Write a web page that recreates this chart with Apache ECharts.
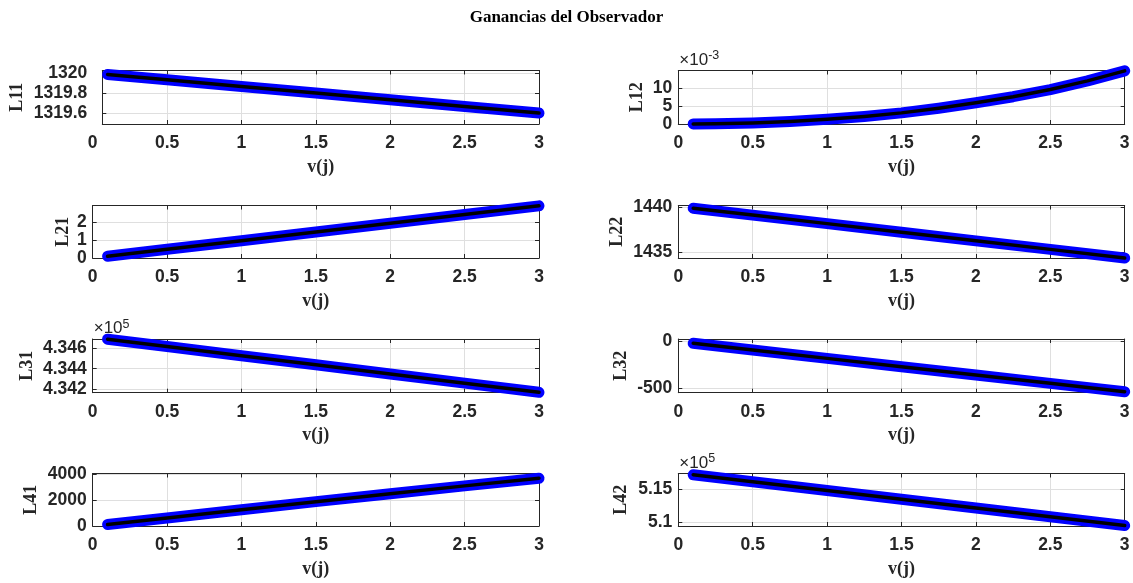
<!DOCTYPE html>
<html>
<head>
<meta charset="utf-8">
<script src="https://cdn.jsdelivr.net/npm/echarts@6/dist/echarts.min.js"></script>
<style>
  html, body { margin: 0; padding: 0; background: #ffffff; }
  #chart { width: 1133px; height: 583px; }
</style>
</head>
<body>
<div id="chart"></div>
<script>
// Observer gains against v(j)
const vj = [0.1, 0.5, 1, 1.5, 2, 2.5, 3];
const vjFine = [0.1, 0.25, 0.5, 0.75, 1, 1.25, 1.5, 1.75, 2, 2.25, 2.5, 2.75, 3];

const L11 = [1319.99, 1319.936, 1319.869, 1319.802, 1319.734, 1319.667, 1319.6];
const L12 = [0.00002, 0.00008, 0.0003, 0.0007, 0.0013, 0.0021, 0.0031, 0.0044, 0.0059, 0.0076, 0.0096, 0.012, 0.0148];
const L21 = [0.1, 0.49, 0.98, 1.47, 1.97, 2.46, 2.95];
const L22 = [1439.9, 1439.13, 1438.18, 1437.22, 1436.26, 1435.31, 1434.35];
const L31 = [434690, 434618, 434528, 434438, 434348, 434258, 434168];
const L32 = [-18, -90, -179, -268, -357, -446, -535];
const L41 = [120, 620, 1250, 1870, 2480, 3080, 3670];
const L42 = [517250, 516180, 514830, 513490, 512150, 510800, 509460];

// tick positions
const xTicks = [0, 0.5, 1, 1.5, 2, 2.5, 3];
const yTicksL11 = [1319.6, 1319.8, 1320];
const yTicksL12 = [0, 0.005, 0.01];
const yTicksL21 = [0, 1, 2];
const yTicksL22 = [1435, 1440];
const yTicksL31 = [434200, 434400, 434600];
const yTicksL32 = [-500, 0];
const yTicksL41 = [0, 2000, 4000];
const yTicksL42 = [510000, 515000];

const TITLE = 'Ganancias del Observador';
const X_NAME = 'v(j)';

// panel layout: [left, right] of columns, [top, bottom] of rows (px)
const COLS = [[92.7, 539], [678.3, 1124.7]];
const ROWS = [[70.5, 124], [205.5, 258], [339, 392.7], [473.5, 526]];

const INK = '#262626';
const GRID_INK = '#dfdfdf';
const SANS = "'Liberation Sans', Arial, Helvetica, sans-serif";
const SERIF = "'Liberation Serif', 'Times New Roman', serif";
const TICK_FONT = 17.5;
const Y_LABEL_MARGIN = 6;

// tightLabels: labels packed closer than their height, placed from the axis scale by hand
const panels = [
  { name: 'L11', x: vj, y: L11, ticks: yTicksL11, min: 1319.49, max: 1320.03, exp: 0, row: 0, col: 0, gap: 76, xmin: 0.0645, leftShift: 9.6, labelMargin: 15 },
  { name: 'L12', x: vjFine, y: L12, ticks: yTicksL12, min: 0, max: 0.0149, exp: -3, row: 0, col: 1, gap: 31.5 },
  { name: 'L21', x: vj, y: L21, ticks: yTicksL21, min: 0, max: 2.97, exp: 0, row: 1, col: 0, gap: 20, tightLabels: true },
  { name: 'L22', x: vj, y: L22, ticks: yTicksL22, min: 1434.35, max: 1440.2, exp: 0, row: 1, col: 1, gap: 51.5 },
  { name: 'L31', x: vj, y: L31, ticks: yTicksL31, min: 434164, max: 434692, exp: 5, row: 2, col: 0, gap: 56 },
  { name: 'L32', x: vj, y: L32, ticks: yTicksL32, min: -546, max: 28, exp: 0, row: 2, col: 1, gap: 47.5 },
  { name: 'L41', x: vj, y: L41, ticks: yTicksL41, min: 0, max: 4030, exp: 0, row: 3, col: 0, gap: 52 },
  { name: 'L42', x: vj, y: L42, ticks: yTicksL42, min: 509390, max: 517450, exp: 5, row: 3, col: 1, gap: 47.5 }
];

function fmtScaled(v, exp) {
  const s = v / Math.pow(10, exp);
  return String(parseFloat(s.toFixed(6)));
}

const N = panels.length;
const grids = [], xAxes = [], yAxes = [], series = [], graphics = [];

panels.forEach((p, i) => {
  const [l, r] = COLS[p.col];
  const [t, b] = ROWS[p.row];
  const left = l + (p.leftShift || 0);
  grids.push({ left: left, top: t, width: r - left, height: b - t, containLabel: false });

  const xmin = p.xmin || 0;
  const lineStyle = { color: INK, width: 1 };
  xAxes[i] = {
    type: 'value', gridIndex: i, min: xmin, max: 3,
    axisLine: { onZero: false, lineStyle },
    axisTick: { inside: true, length: 4, customValues: xTicks, lineStyle },
    axisLabel: {
      customValues: xTicks, margin: 10, fontSize: TICK_FONT, fontWeight: 'bold', fontFamily: SANS, color: INK,
      hideOverlap: false
    },
    splitLine: { show: true, lineStyle: { color: GRID_INK, width: 1 } },
    name: X_NAME, nameLocation: 'middle', nameGap: 34, nameMoveOverlap: false,
    nameTextStyle: { fontFamily: SERIF, fontWeight: 'bold', fontSize: 18, color: INK }
  };
  xAxes[N + i] = {
    type: 'value', gridIndex: i, position: 'top', min: xmin, max: 3,
    axisLine: { onZero: false, lineStyle },
    axisTick: { inside: true, length: 4, customValues: xTicks, lineStyle },
    axisLabel: { show: false }, splitLine: { show: false }
  };
  yAxes[i] = {
    type: 'value', gridIndex: i, min: p.min, max: p.max,
    axisLine: { show: true, onZero: false, lineStyle },
    axisTick: { show: true, inside: true, length: 4, customValues: p.ticks, lineStyle },
    axisLabel: {
      show: !p.tightLabels,
      customValues: p.ticks, margin: p.labelMargin || Y_LABEL_MARGIN, fontSize: TICK_FONT, fontWeight: 'bold',
      fontFamily: SANS, color: INK, formatter: v => fmtScaled(v, p.exp),
      hideOverlap: false
    },
    splitLine: { show: true, lineStyle: { color: GRID_INK, width: 1 } },
    name: p.name, nameLocation: 'middle', nameGap: p.gap, nameMoveOverlap: false,
    nameTextStyle: { fontFamily: SERIF, fontWeight: 'bold', fontSize: 18, color: INK }
  };
  yAxes[N + i] = {
    type: 'value', gridIndex: i, position: 'right', min: p.min, max: p.max,
    axisLine: { show: true, onZero: false, lineStyle },
    axisTick: { show: true, inside: true, length: 4, customValues: p.ticks, lineStyle },
    axisLabel: { show: false }, splitLine: { show: false }
  };

  const pts = p.x.map((xv, k) => [xv, p.y[k]]);
  const common = {
    type: 'line', xAxisIndex: i, yAxisIndex: i, data: pts, symbol: 'none',
    clip: false, silent: true, animation: false
  };
  series.push(Object.assign({}, common, { lineStyle: { color: '#0000ff', width: 11, cap: 'round', join: 'round' } }));
  series.push(Object.assign({}, common, { lineStyle: { color: '#000000', width: 3.5, cap: 'round', join: 'round' } }));

  if (p.exp !== 0) {
    graphics.push({
      type: 'text', left: l + 1, top: t - 21, silent: true,
      style: {
        text: '×10{s|' + p.exp + '}',
        font: '17px ' + SANS, fill: INK,
        rich: { s: { fontSize: 12.5, fontFamily: SANS, fill: INK, verticalAlign: 'top', padding: [0, 0, 8, 0] } }
      }
    });
  }
});

const chart = echarts.init(document.getElementById('chart'), null, { renderer: 'canvas' });
chart.setOption({
  backgroundColor: '#ffffff',
  animation: false,
  title: { text: TITLE, left: 'center', top: 4, textStyle: { fontFamily: SERIF, fontWeight: 'bold', fontSize: 17, color: '#000000' } },
  grid: grids, xAxis: xAxes, yAxis: yAxes, series: series, graphic: graphics
});

const labelFont = 'bold ' + TICK_FONT + 'px ' + SANS;

// the first panel's x axis starts just after 0, its "0" label sits left of the box
const zeroX = chart.convertToPixel({ xAxisIndex: 0 }, 0);
const [, b0] = ROWS[0];
graphics.push({
  type: 'text', x: zeroX, y: b0 + 10, silent: true,
  style: { text: '0', font: labelFont, fill: INK, align: 'center', verticalAlign: 'top' }
});

// tightly packed y labels, positioned through the axis scale
panels.forEach((p, i) => {
  if (!p.tightLabels) return;
  const axisX = COLS[p.col][0] + (p.leftShift || 0);
  p.ticks.forEach(v => {
    const py = chart.convertToPixel({ yAxisIndex: i }, v);
    graphics.push({
      type: 'text', x: axisX - Y_LABEL_MARGIN, y: py, silent: true,
      style: { text: fmtScaled(v, p.exp), font: labelFont, fill: INK, align: 'right', verticalAlign: 'middle' }
    });
  });
});
chart.setOption({ graphic: graphics });
</script>
</body>
</html>
